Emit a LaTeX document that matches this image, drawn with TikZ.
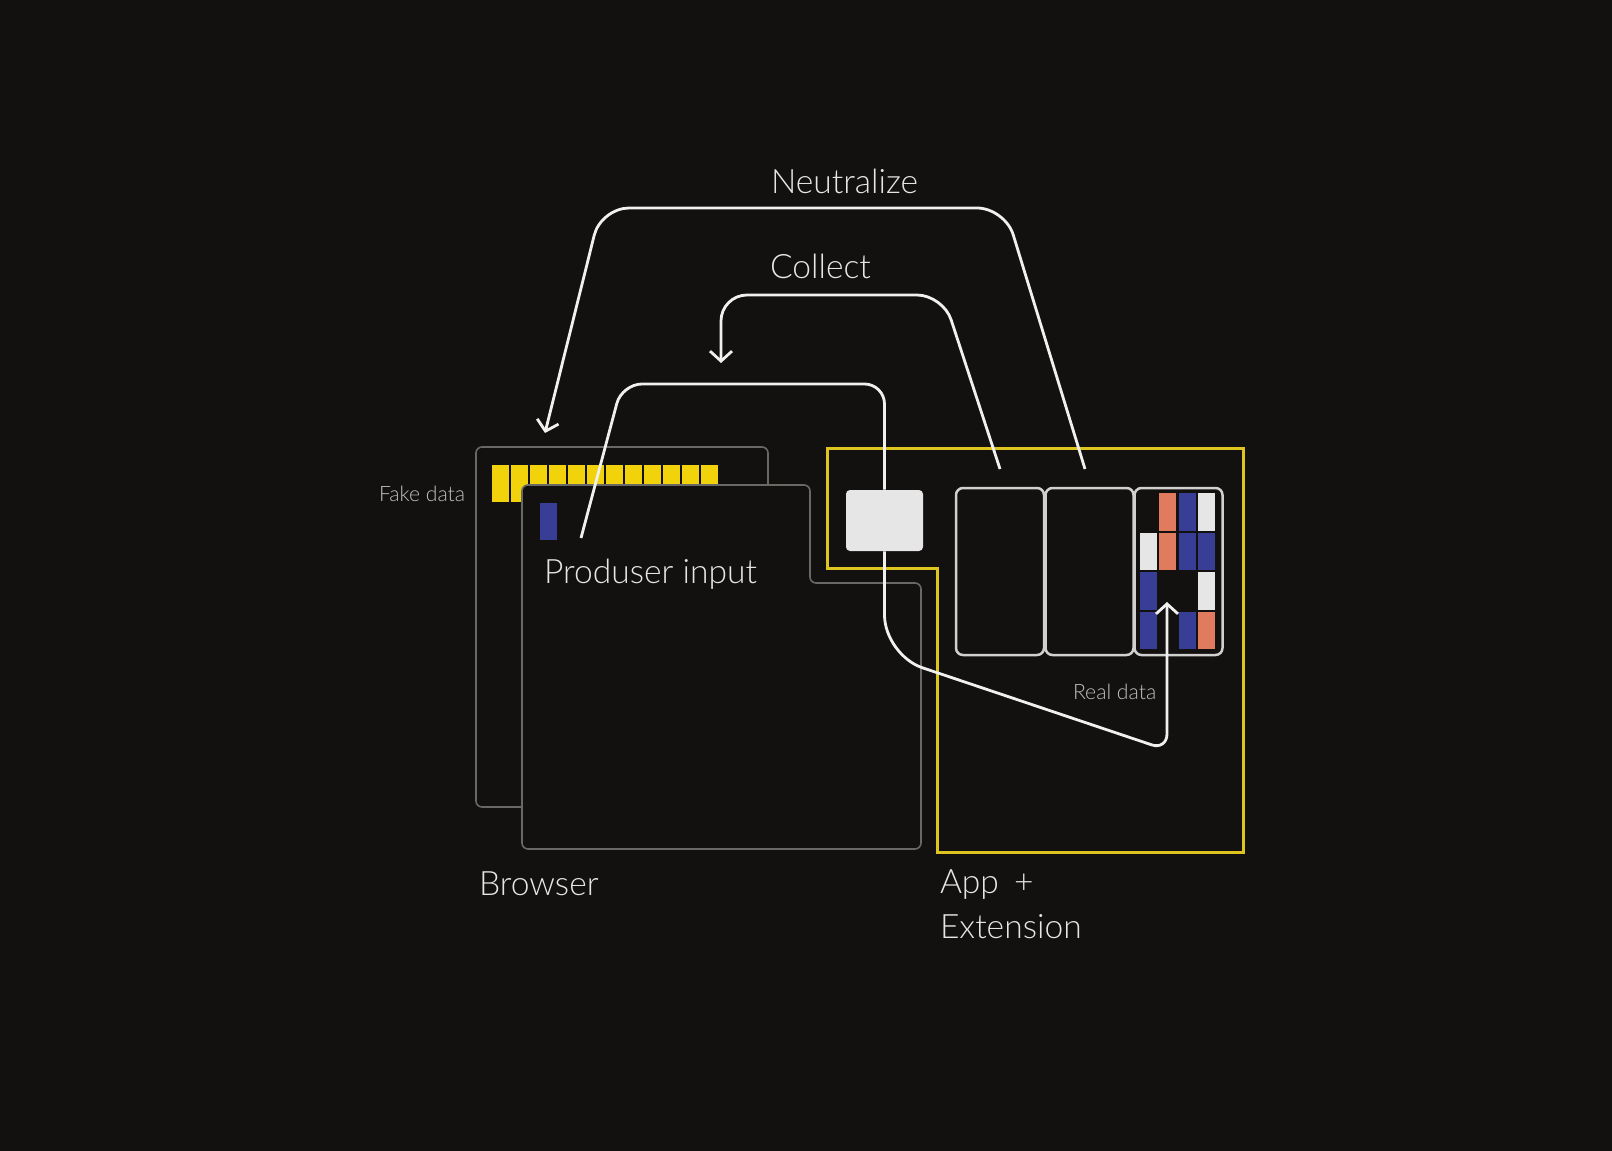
\documentclass[tikz,border=0pt]{standalone}
\usepackage{fontspec}
\IfFontExistsTF{Lato Light}{\setmainfont{Lato Light}}{\setmainfont{Liberation Sans}}
\usetikzlibrary{arrows.meta}
\definecolor{bg}{RGB}{18,17,15}
\definecolor{wline}{RGB}{240,240,238}
\definecolor{txt}{RGB}{230,230,228}
\definecolor{stxt}{RGB}{192,192,190}
\definecolor{winline}{RGB}{104,104,100}
\definecolor{yel}{RGB}{242,210,10}
\definecolor{yline}{RGB}{222,196,30}
\definecolor{cblue}{RGB}{56,61,150}
\definecolor{corange}{RGB}{224,123,94}
\definecolor{cwhite}{RGB}{230,230,230}
\definecolor{panelline}{RGB}{208,208,206}
\tikzset{
  biglabel/.style={anchor=base west, inner sep=0pt, outer sep=0pt, text=txt, font=\fontsize{16.8pt}{22.5pt}\selectfont},
  smalllabel/.style={anchor=base west, inner sep=0pt, outer sep=0pt, text=stxt, font=\fontsize{10.6pt}{12pt}\selectfont},
  flow/.style={draw=wline, line width=1.4pt},
  tip/.style={-{Straight Barb[length=5pt,width=11pt]}},
  window/.style={draw=winline, line width=0.8pt, rounded corners=3pt},
  panelbox/.style={draw=panelline, line width=1.25pt, rounded corners=3.5pt, minimum width=44pt, minimum height=83.5pt, inner sep=0pt},
  tokenbox/.style={fill=cwhite, rounded corners=2pt, minimum width=38.5pt, minimum height=30.5pt, inner sep=0pt},
  cell/.style={fill=#1}
}
\begin{document}
\begin{tikzpicture}[x=0.5pt,y=-0.5pt]
\fill[bg] (0,0) rectangle (1612,1151);
\useasboundingbox (0,0) rectangle (1612,1151);

% back browser window
\draw[window, fill=bg] (476,447) rectangle (768,807);
% fake data bars
\foreach \i in {0,...,11} \fill[yel] ({492+19*\i},465) rectangle ++(16.5,37);
% front browser window
\draw[window, fill=bg] (522,485) -- (810,485) -- (810,583) -- (921,583) -- (921,849) -- (522,849) -- cycle;
% producer input marker
\fill[cblue] (540,503) rectangle (557,540);

% app + extension outline
\draw[yline, line width=1.5pt] (827,448) -- (1243,448) -- (1243,852) -- (937,852) -- (937,568) -- (827,568) -- cycle;

% token
\node[tokenbox] (token) at (884.5,520.5) {};
% panels
\node[panelbox] (p1) at (1000,571.5) {};
\node[panelbox] (p2) at (1089.5,571.5) {};
\node[panelbox] (p3) at (1178.5,571.5) {};

% grid cells in panel 3
\foreach \c/\r/\col in {2/1/corange,3/1/cblue,4/1/cwhite,
                        1/2/cwhite,2/2/corange,3/2/cblue,4/2/cblue,
                        1/3/cblue,4/3/cwhite,
                        1/4/cblue,3/4/cblue,4/4/corange}
  \fill[cell=\col] ({1140+(\c-1)*19.3},{493+(\r-1)*39.6}) rectangle ++(17,37.5);

% coordinates
\coordinate (pin) at (581,538);
\coordinate (ptop) at (622,384);
\coordinate (nS) at (1085,469);
\coordinate (nT) at (545,433);
\coordinate (cS) at (1000,469);
\coordinate (cT) at (721,363);
\coordinate (rT) at (1167,602);

% producer input -> token
\draw[flow, rounded corners=10pt] (pin) -- (ptop) -- (ptop -| token.north) -- (token.north);
% collect
\draw[flow, tip, rounded corners=13pt] (cS) -- (943,295) -- (cT |- 0,295) -- (cT);
% neutralize
\draw[flow, tip, rounded corners=14pt] (nS) -- (1005,208) -- (601,208) -- (nT);
% real data
\draw[flow, tip, rounded corners=20pt] (token.south) -- (token.south |- 0,655) [rounded corners=8pt] -- (rT |- 0,750) -- (rT);

% labels
\node[biglabel] (lneu) at (771,193) {Neutralize};
\node[biglabel] (lcol) at (770,278) {Collect};
\node[biglabel] (lprod) at (544,583) {Produser input};
\node[biglabel] (lbrow) at (479,895) {Browser};
\node[biglabel] (lapp1) at (940,893) {App\hspace{0.45em}+};
\node[biglabel] (lapp2) at (940,938) {Extension};
\node[smalllabel] (lfake) at (379,501) {Fake data};
\node[smalllabel] (lreal) at (1073,699) {Real data};
\end{tikzpicture}
\end{document}
